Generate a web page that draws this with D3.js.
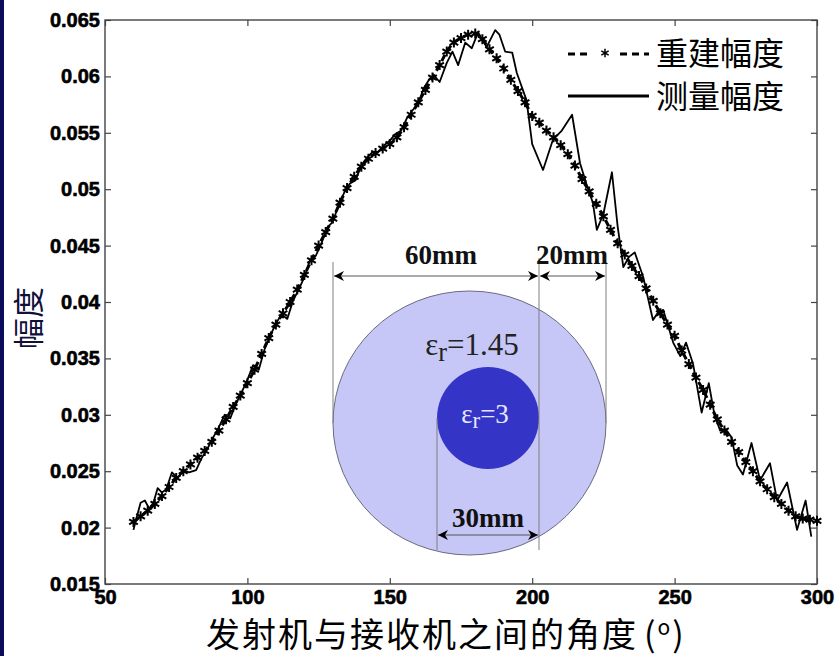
<!DOCTYPE html>
<html>
<head>
<meta charset="utf-8">
<script src="https://cdn.jsdelivr.net/npm/d3@7/dist/d3.min.js"></script>
<style>
  html, body { margin: 0; padding: 0; background: #fff; }
  svg { display: block; }
</style>
</head>
<body>
<svg id="chart" width="837" height="656"></svg>
<script>
// Reconstructed amplitude (sampled every 2.5 degrees)
const recAngles = [60, 62.5, 65, 67.5, 70, 72.5, 75, 77.5, 80, 82.5, 85, 87.5, 90, 92.5, 95, 97.5,
  100, 102.5, 105, 107.5, 110, 112.5, 115, 117.5, 120, 122.5, 125, 127.5, 130, 132.5, 135, 137.5,
  140, 142.5, 145, 147.5, 150, 152.5, 155, 157.5, 160, 162.5, 165, 167.5, 170, 172.5, 175, 177.5,
  180, 182.5, 185, 187.5, 190, 192.5, 195, 197.5, 200, 202.5, 205, 207.5, 210, 212.5, 215, 217.5,
  220, 222.5, 225, 227.5, 230, 232.5, 235, 237.5, 240, 242.5, 245, 247.5, 250, 252.5, 255, 257.5,
  260, 262.5, 265, 267.5, 270, 272.5, 275, 277.5, 280, 282.5, 285, 287.5, 290, 292.5, 295, 297.5, 300];
const recValues = [0.0205, 0.0210, 0.0215, 0.0221, 0.0228, 0.0236, 0.0244, 0.0250, 0.0256, 0.0262,
  0.0268, 0.0276, 0.0286, 0.0296, 0.0307, 0.0317, 0.0328, 0.0340, 0.0354, 0.0368, 0.0380, 0.0390,
  0.0400, 0.0411, 0.0424, 0.0437, 0.0450, 0.0462, 0.0474, 0.0488, 0.0501, 0.0511, 0.0520, 0.0527,
  0.0532, 0.0536, 0.0540, 0.0546, 0.0555, 0.0566, 0.0577, 0.0588, 0.0599, 0.0610, 0.0622, 0.0630,
  0.0634, 0.0637, 0.0638, 0.0633, 0.0624, 0.0616, 0.0607, 0.0597, 0.0587, 0.0577, 0.0565, 0.0559,
  0.0552, 0.0546, 0.0539, 0.0531, 0.0521, 0.0509, 0.0498, 0.0487, 0.0476, 0.0464, 0.0452, 0.0442,
  0.0432, 0.0423, 0.0412, 0.0401, 0.0390, 0.0380, 0.0370, 0.0357, 0.0345, 0.0333, 0.0322, 0.0309,
  0.0296, 0.0286, 0.0276, 0.0267, 0.0258, 0.0250, 0.0241, 0.0234, 0.0227, 0.0221, 0.0215, 0.0210,
  0.0208, 0.0207, 0.0206];

// Measured amplitude
const measAngles = [60, 61, 62.5, 64, 65.5, 67, 68.5, 70, 71.5, 73.5, 75.5, 77.5, 79.5, 82, 84, 86, 88,
  90, 92, 94, 96, 98, 100, 102, 104, 106, 108, 110, 112, 114, 116, 118, 120, 122, 124, 126, 128,
  130, 132, 134, 136, 138, 140, 142, 144, 146, 148, 150, 152, 154, 156, 158, 160, 162, 164, 165.5,
  167.5, 170, 172, 174, 176.5, 178.8, 181, 184, 187, 188.5, 190.5, 193, 194.6, 198, 200, 203.8,
  207.3, 210.4, 214, 216.8, 219, 221.3, 222.7, 225, 228, 230, 232, 234, 236, 239, 242.4, 244, 246,
  249.5, 252, 254, 256.5, 259.5, 262, 264, 266, 268, 270, 272, 274, 277, 280, 283.5, 286, 289.5,
  293, 296, 298];
const measValues = [0.0198, 0.0208, 0.0222, 0.0224, 0.0217, 0.0222, 0.0235, 0.0231, 0.0234, 0.0249,
  0.0244, 0.0251, 0.0249, 0.0251, 0.0262, 0.0270, 0.0280, 0.0289, 0.0300, 0.0297, 0.0310, 0.0320,
  0.0331, 0.0344, 0.0340, 0.0358, 0.0370, 0.0381, 0.0389, 0.0385, 0.0401, 0.0411, 0.0422, 0.0437,
  0.0441, 0.0452, 0.0466, 0.0471, 0.0486, 0.0497, 0.0505, 0.0508, 0.0521, 0.0528, 0.0533, 0.0533,
  0.0539, 0.0543, 0.0549, 0.0552, 0.0563, 0.0570, 0.0576, 0.0590, 0.0598, 0.0601, 0.0595, 0.0612,
  0.0622, 0.0610, 0.0630, 0.0625, 0.0639, 0.0626, 0.0641, 0.0637, 0.0622, 0.0621, 0.0603, 0.0579,
  0.0540, 0.0517, 0.0544, 0.0552, 0.0566, 0.0523, 0.0505, 0.0488, 0.0464, 0.0478, 0.0515, 0.0467,
  0.0431, 0.0440, 0.0444, 0.0422, 0.0384, 0.0390, 0.0393, 0.0364, 0.0352, 0.0364, 0.0345, 0.0302,
  0.0328, 0.0300, 0.0286, 0.0287, 0.0280, 0.0255, 0.0247, 0.0275, 0.0242, 0.0257, 0.0224, 0.0240,
  0.0198, 0.0224, 0.0192];

const xTicks = [50, 100, 150, 200, 250, 300];
const yTicks = [0.015, 0.02, 0.025, 0.03, 0.035, 0.04, 0.045, 0.05, 0.055, 0.06, 0.065];
const yTickLabels = ["0.015", "0.02", "0.025", "0.03", "0.035", "0.04", "0.045", "0.05", "0.055", "0.06", "0.065"];
const legendLabels = ["重建幅度", "测量幅度"];
const xTitle = "发射机与接收机之间的角度";
const yTitle = "幅度";

const svg = d3.select("#chart");
const L = 105, R = 817, T = 20, B = 584;

const x = d3.scaleLinear().domain([50, 300]).range([L, R]);
const y = d3.scaleLinear().domain([0.015, 0.065]).range([B, T]);

// dark strip on the left edge of the slide
svg.append("rect").attr("x", 0).attr("y", 0).attr("width", 4).attr("height", 656).attr("fill", "#0b0b5c");

const tickFont = "'Liberation Sans', Arial, sans-serif";

function styleAxis(g) {
  g.select(".domain").remove();
  g.selectAll(".tick line").attr("stroke", "#444").attr("stroke-width", 1.2);
  g.selectAll(".tick text")
    .attr("font-family", tickFont).attr("font-weight", "bold").attr("font-size", 20)
    .attr("fill", "#000").attr("stroke", "#000").attr("stroke-width", 0.6);
}

svg.append("g").attr("transform", `translate(0,${B})`)
  .call(d3.axisBottom(x).tickValues(xTicks).tickSize(-6).tickPadding(12).tickFormat(d3.format("d")))
  .call(styleAxis)
  .selectAll(".tick text").attr("dy", "0.71em").attr("y", 6);

svg.append("g").attr("transform", `translate(${L},0)`)
  .call(d3.axisLeft(y).tickValues(yTicks).tickSize(-6).tickPadding(5)
    .tickFormat((d, i) => yTickLabels[i]))
  .call(styleAxis);

svg.append("g").attr("transform", `translate(0,${T})`)
  .call(d3.axisTop(x).tickValues(xTicks).tickSize(-6).tickFormat(""))
  .call(styleAxis);

svg.append("g").attr("transform", `translate(${R},0)`)
  .call(d3.axisRight(y).tickValues(yTicks).tickSize(-6).tickFormat(""))
  .call(styleAxis);

// plot frame
svg.append("rect").attr("x", L).attr("y", T).attr("width", R - L).attr("height", B - T)
  .attr("fill", "none").attr("stroke", "#444").attr("stroke-width", 1.4);

// curves
const rec = recAngles.map((a, i) => [a, recValues[i]]);
const meas = measAngles.map((a, i) => [a, measValues[i]]);

svg.append("path").datum(meas)
  .attr("d", d3.line().x(d => x(d[0])).y(d => y(d[1])))
  .attr("fill", "none").attr("stroke", "#000").attr("stroke-width", 1.8).attr("stroke-linejoin", "round");

svg.append("path").datum(rec)
  .attr("d", d3.line().x(d => x(d[0])).y(d => y(d[1])).curve(d3.curveMonotoneX))
  .attr("fill", "none").attr("stroke", "#000").attr("stroke-width", 3).attr("stroke-dasharray", "7,4");

const star = d3.symbol().type(d3.symbolAsterisk).size(70);
svg.append("g").selectAll("path").data(rec).join("path")
  .attr("d", star)
  .attr("transform", d => `translate(${x(d[0])},${y(d[1])})`)
  .attr("fill", "none").attr("stroke", "#000").attr("stroke-width", 2);

// legend
const lg = svg.append("g");
lg.append("line").attr("x1", 568).attr("x2", 590).attr("y1", 54).attr("y2", 54)
  .attr("stroke", "#000").attr("stroke-width", 3).attr("stroke-dasharray", "7,5");
lg.append("line").attr("x1", 620).attr("x2", 649).attr("y1", 54).attr("y2", 54)
  .attr("stroke", "#000").attr("stroke-width", 3).attr("stroke-dasharray", "7,5");
lg.append("path").attr("d", d3.symbol().type(d3.symbolAsterisk).size(50)())
  .attr("transform", "translate(605,53)").attr("fill", "none").attr("stroke", "#000").attr("stroke-width", 1.5);
lg.append("line").attr("x1", 568).attr("x2", 649).attr("y1", 96).attr("y2", 96)
  .attr("stroke", "#000").attr("stroke-width", 3);
lg.selectAll("text").data(legendLabels).join("text")
  .attr("x", 656).attr("y", (d, i) => 65 + i * 43)
  .attr("font-family", "'Noto Sans CJK SC', sans-serif").attr("font-size", 32)
  .attr("fill", "#000").text(d => d);

// axis titles
const xt = svg.append("text").attr("x", 206).attr("y", 647)
  .attr("font-family", "'Noto Sans CJK SC', sans-serif").attr("font-size", 34)
  .attr("letter-spacing", 2).attr("fill", "#000");
xt.append("tspan").text(xTitle);
xt.append("tspan").attr("dx", 6).text("(");
xt.append("tspan").attr("font-size", 21).attr("dy", -12).text("o");
xt.append("tspan").attr("dy", 12).text(")");

svg.append("text").attr("transform", "translate(40,318) rotate(-90)").attr("text-anchor", "middle")
  .attr("font-family", "'Noto Sans CJK SC', sans-serif").attr("font-size", 31)
  .attr("fill", "#10103a").text(yTitle);

// cross-section sketch: outer layer and inner core
const sk = svg.append("g");
sk.append("ellipse").attr("cx", 469.5).attr("cy", 423).attr("rx", 136.5).attr("ry", 132)
  .attr("fill", "#c6c7f6").attr("stroke", "#6a6a80").attr("stroke-width", 1);
sk.append("circle").attr("cx", 488).attr("cy", 418).attr("r", 51)
  .attr("fill", "#3434c6");

const guide = (x0, y0, y1) => sk.append("line").attr("x1", x0).attr("x2", x0).attr("y1", y0).attr("y2", y1)
  .attr("stroke", "#7f7f7f").attr("stroke-width", 1);
guide(333, 262, 423);
guide(539, 258, 550);
guide(606, 262, 423);
guide(437, 418, 550);

const defs = svg.append("defs");
defs.append("marker").attr("id", "arrowhead").attr("viewBox", "0 0 10 10")
  .attr("refX", 10).attr("refY", 5).attr("markerWidth", 12).attr("markerHeight", 10)
  .attr("markerUnits", "userSpaceOnUse").attr("orient", "auto-start-reverse")
  .append("path").attr("d", "M0,0 L10,5 L0,10 L3,5 Z").attr("fill", "#000");

const dim = (x0, x1, yy) => sk.append("line").attr("x1", x0).attr("x2", x1).attr("y1", yy).attr("y2", yy)
  .attr("stroke", "#555").attr("stroke-width", 1)
  .attr("marker-start", "url(#arrowhead)").attr("marker-end", "url(#arrowhead)");
dim(334, 538, 276);
dim(540, 605, 276);
dim(438, 538, 535);

const serif = "'Liberation Serif', 'Times New Roman', serif";
sk.append("text").attr("x", 441).attr("y", 264).attr("text-anchor", "middle")
  .attr("font-family", serif).attr("font-weight", "bold").attr("font-size", 27).attr("fill", "#111").text("60mm");
sk.append("text").attr("x", 572).attr("y", 264).attr("text-anchor", "middle")
  .attr("font-family", serif).attr("font-weight", "bold").attr("font-size", 27).attr("fill", "#111").text("20mm");
sk.append("text").attr("x", 488).attr("y", 527).attr("text-anchor", "middle")
  .attr("font-family", serif).attr("font-weight", "bold").attr("font-size", 27).attr("fill", "#111").text("30mm");

const eps = (cx, cy, size, value, color) => {
  const t = sk.append("text").attr("x", cx).attr("y", cy).attr("text-anchor", "middle")
    .attr("font-family", serif).attr("font-size", size).attr("fill", color);
  t.append("tspan").text("ε");
  t.append("tspan").attr("dy", size * 0.18).attr("font-size", size * 0.85).text("r");
  t.append("tspan").attr("dy", -size * 0.18).text("=" + value);
};
eps(472, 355, 31, "1.45", "#222");
eps(485, 423, 27, "3", "#e6e6ff");
</script>
</body>
</html>
